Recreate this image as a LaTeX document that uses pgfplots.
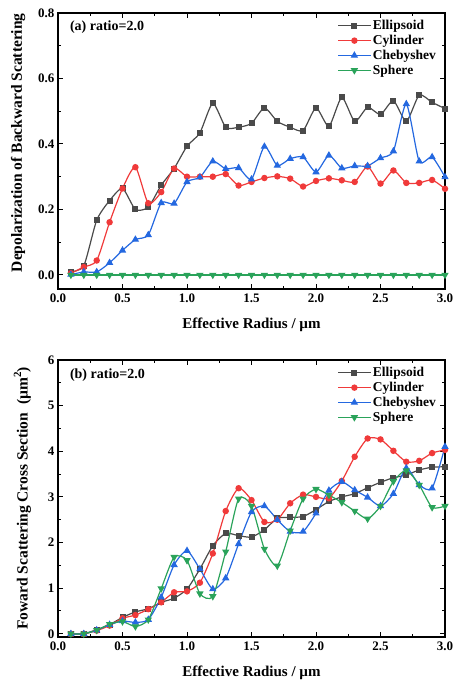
\documentclass[border=0pt]{standalone}
\usepackage{fontspec}
\setmainfont{Liberation Serif}
\usepackage{pgfplots}
\usepackage{pgfplotstable}
\pgfplotsset{compat=1.18}
\definecolor{cEll}{HTML}{4A4A4A}
\definecolor{cCyl}{HTML}{F03A3A}
\definecolor{cCheb}{HTML}{2468E0}
\definecolor{cSph}{HTML}{2AA35A}

\pgfplotstableread{
x ell cyl cheb sph
0.1 0.010 0.005 0.001 0
0.2 0.028 0.024 0.009 0
0.3 0.167 0.044 0.009 0
0.4 0.227 0.161 0.037 0
0.5 0.264 0.264 0.075 0
0.6 0.200 0.329 0.108 0
0.7 0.207 0.219 0.122 0
0.8 0.274 0.253 0.220 0
0.9 0.325 0.325 0.218 0
1.0 0.393 0.300 0.284 0
1.1 0.434 0.300 0.298 0
1.2 0.524 0.300 0.347 0
1.3 0.451 0.308 0.324 0
1.4 0.451 0.273 0.327 0
1.5 0.463 0.284 0.292 0
1.6 0.510 0.296 0.392 0
1.7 0.469 0.301 0.334 0
1.8 0.451 0.294 0.355 0
1.9 0.441 0.270 0.360 0
2.0 0.510 0.287 0.314 0
2.1 0.454 0.295 0.365 0
2.2 0.542 0.289 0.326 0
2.3 0.469 0.284 0.333 0
2.4 0.512 0.331 0.333 0
2.5 0.490 0.279 0.357 0
2.6 0.532 0.319 0.378 0
2.7 0.469 0.281 0.522 0
2.8 0.549 0.281 0.347 0
2.9 0.527 0.290 0.360 0
3.0 0.508 0.263 0.299 0
}\dataA

\pgfplotstableread{
x ell cyl cheb sph
0.1 0 0 0 0
0.2 0 0 0 0
0.3 0.09 0.07 0.08 0.08
0.4 0.20 0.18 0.20 0.21
0.5 0.36 0.34 0.28 0.27
0.6 0.48 0.41 0.25 0.16
0.7 0.55 0.54 0.31 0.31
0.8 0.69 0.69 0.80 0.99
0.9 0.78 0.91 1.51 1.68
1.0 0.98 0.93 1.82 1.61
1.1 1.42 1.12 1.42 0.88
1.2 1.93 1.76 0.98 0.82
1.3 2.20 2.69 1.22 1.80
1.4 2.15 3.19 1.97 2.96
1.5 2.12 2.93 2.67 2.80
1.6 2.28 2.45 2.80 1.86
1.7 2.53 2.50 2.50 1.49
1.8 2.55 2.86 2.24 2.26
1.9 2.57 3.05 2.24 2.96
2.0 2.72 3.00 2.64 3.17
2.1 2.90 2.97 3.14 3.04
2.2 3.00 3.35 3.33 2.88
2.3 3.07 3.88 3.15 2.69
2.4 3.20 4.28 2.99 2.52
2.5 3.32 4.26 2.80 2.80
2.6 3.42 4.01 3.07 3.34
2.7 3.48 3.77 3.63 3.58
2.8 3.59 3.79 3.26 3.26
2.9 3.65 3.96 3.19 2.77
3.0 3.66 4.03 4.10 2.80
}\dataB

\pgfplotsset{
  myax/.style={
    scale only axis, width=387pt,
    xmin=0, xmax=3, xtick={0,0.5,...,3}, minor x tick num=1,
    tick align=inside, xtick pos=both, ytick pos=both,
    xticklabel pos=lower, yticklabel pos=left,
    axis line style={line width=1.3pt},
    major tick length=5pt, minor tick length=3pt,
    every tick/.style={black, line width=1pt},
    /pgf/number format/assume math mode=true,
    tick label style={font=\bfseries\fontsize{13}{13}\selectfont},
    xticklabel style={yshift=-1.5pt, /pgf/number format/.cd, fixed, fixed zerofill, precision=1},
    xlabel style={font=\bfseries\fontsize{15}{16}\selectfont, at={(axis description cs:0.5,-0.13)}, anchor=center},
    ylabel style={font=\bfseries\fontsize{15.5}{16}\selectfont, anchor=center},
    xlabel={Effective Radius / µm},
    legend cell align=left,
    legend style={at={(0.985,0.985)}, anchor=north east, draw=none, fill=none,
      font=\bfseries\fontsize{13.5}{14}\selectfont, row sep=0pt, inner sep=1pt},
    legend image code/.code={\draw[mark repeat=2,mark phase=2] plot coordinates {(0pt,0pt)(16pt,0pt)(32pt,0pt)};},
    every axis plot/.append style={line width=1.2pt, smooth, tension=0.4},
  },
  sEll/.style={color=cEll, mark=square*, mark size=2.4pt},
  sCyl/.style={color=cCyl, mark=*, mark size=2.6pt},
  sCheb/.style={color=cCheb, mark=triangle*, mark size=3.1pt},
  sSph/.style={color=cSph, mark=triangle*, mark size=3.1pt, mark options={rotate=180}},
}

\begin{document}
\begin{tikzpicture}
\useasboundingbox (0,0) rectangle (455pt,682pt);
\begin{axis}[myax, at={(58pt,393pt)}, anchor=south west, height=276pt,
  ymin=-0.043, ymax=0.8, ytick={0,0.2,...,0.8}, minor y tick num=1,
  yticklabel style={/pgf/number format/.cd, fixed, fixed zerofill, precision=1},
  ylabel style={at={(axis description cs:-0.103,0.53)}},
  ylabel={Depolarization of Backward Scattering}]
\addplot[sEll] table[x=x,y=ell] {\dataA};
\addplot[sCyl] table[x=x,y=cyl] {\dataA};
\addplot[sCheb] table[x=x,y=cheb] {\dataA};
\addplot[sSph] table[x=x,y=sph] {\dataA};
\legend{Ellipsoid,Cylinder,Chebyshev,Sphere}
\node[anchor=west, font=\bfseries\fontsize{14}{14}\selectfont] at (rel axis cs:0.022,0.95) {(a) ratio=2.0};
\end{axis}
\begin{axis}[myax, at={(58pt,45pt)}, anchor=south west, height=277pt,
  ymin=-0.07, ymax=6, ytick={0,1,...,6}, minor y tick num=1,
  ylabel style={at={(axis description cs:-0.092,0.5)}},
  ylabel={Foward Scattering Cross Section~~(µm\raisebox{0.9ex}{\fontsize{11}{11}\selectfont 2})}]
\addplot[sEll] table[x=x,y=ell] {\dataB};
\addplot[sCyl] table[x=x,y=cyl] {\dataB};
\addplot[sCheb] table[x=x,y=cheb] {\dataB};
\addplot[sSph] table[x=x,y=sph] {\dataB};
\legend{Ellipsoid,Cylinder,Chebyshev,Sphere}
\node[anchor=west, font=\bfseries\fontsize{14}{14}\selectfont] at (rel axis cs:0.022,0.945) {(b) ratio=2.0};
\end{axis}
\end{tikzpicture}
\end{document}
